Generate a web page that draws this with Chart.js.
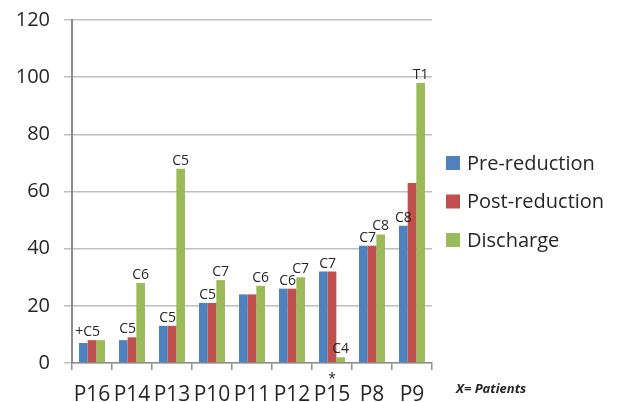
<!DOCTYPE html>
<html>
<head>
<meta charset="utf-8">
<script src="https://cdn.jsdelivr.net/npm/chart.js@4/dist/chart.umd.min.js"></script>
<style>
  html, body { margin: 0; padding: 0; background: #ffffff; }
  #wrap { width: 617px; height: 402px; }
</style>
</head>
<body>
<div id="wrap"><canvas id="c" width="617" height="402"></canvas></div>
<script>
// Patients along the x axis
const patients = ['P16', 'P14', 'P13', 'P10', 'P11', 'P12', 'P15', 'P8', 'P9'];

// Series values
const preReduction  = [7, 8, 13, 21, 24, 26, 32, 41, 48];
const postReduction = [8, 9, 13, 21, 24, 26, 32, 41, 63];
const discharge     = [8, 28, 68, 29, 27, 30, 2, 45, 98];

// Level annotations written above the bars
const preNotes       = ['', '', '', '', '', '', '', '', 'C8'];
const postNotes      = ['+C5', 'C5', 'C5', 'C5', '', 'C6', 'C7', 'C7', ''];
const dischargeNotes = ['', 'C6', 'C5', 'C7', 'C6', 'C7', 'C4', 'C8', 'T1'];

// Marks placed under the category labels
const patientMarks = ['', '', '', '', '', '', '*', '', ''];

// Value axis ticks
const yTicks = [0, 20, 40, 60, 80, 100, 120];

const seriesNames  = ['Pre-reduction', 'Post-reduction', 'Discharge'];
const seriesColors = ['#4F81BD', '#C0504D', '#9BBB59'];
const FONT = '"Open Sans", "Liberation Sans", sans-serif';

const notesPlugin = {
  id: 'notes',
  afterDatasetsDraw(chart) {
    const ctx = chart.ctx;
    const sets = [
      { notes: preNotes, nudge: 0 },
      { notes: postNotes, nudge: -0.5 },
      { notes: dischargeNotes, nudge: 0 }
    ];
    ctx.save();
    ctx.fillStyle = '#262626';
    ctx.font = '14px ' + FONT;
    ctx.textAlign = 'center';
    ctx.textBaseline = 'bottom';
    sets.forEach((s, di) => {
      const meta = chart.getDatasetMeta(di);
      meta.data.forEach((bar, i) => {
        const t = s.notes[i];
        if (!t) return;
        ctx.fillText(t, bar.x + s.nudge * bar.width, bar.y - 1);
      });
    });
    // marks under category labels
    const xs = chart.scales.x;
    ctx.textBaseline = 'middle';
    patientMarks.forEach((m, i) => {
      if (!m) return;
      ctx.fillText(m, xs.getPixelForValue(i), chart.chartArea.bottom + 16);
    });
    ctx.restore();
  }
};

const legendPlugin = {
  id: 'sideLegend',
  afterDraw(chart) {
    const ctx = chart.ctx;
    ctx.save();
    ctx.font = '20px ' + FONT;
    ctx.textBaseline = 'middle';
    ctx.textAlign = 'left';
    chart.data.datasets.forEach((ds, i) => {
      const cy = 163 + i * 38.5;
      ctx.fillStyle = ds.backgroundColor;
      ctx.fillRect(446, cy - 7, 14, 14);
      ctx.fillStyle = '#262626';
      ctx.fillText(ds.label, 467, cy + 1);
    });
    ctx.font = 'italic bold 13px ' + FONT;
    ctx.fillText('X= Patients', 456, 389);
    ctx.restore();
  }
};

new Chart(document.getElementById('c'), {
  type: 'bar',
  data: {
    labels: patients,
    datasets: [
      { label: seriesNames[0], data: preReduction,  backgroundColor: seriesColors[0] },
      { label: seriesNames[1], data: postReduction, backgroundColor: seriesColors[1] },
      { label: seriesNames[2], data: discharge,     backgroundColor: seriesColors[2] }
    ]
  },
  options: {
    responsive: false,
    animation: false,
    layout: { padding: { top: 20, right: 185, left: 0, bottom: 0 } },
    datasets: { bar: { categoryPercentage: 0.65, barPercentage: 1.0, borderWidth: 0 } },
    plugins: { legend: { display: false }, tooltip: { enabled: false } },
    scales: {
      x: {
        afterFit(s) { s.height = 39; s.paddingLeft = 0; s.paddingRight = 0; },
        grid: { display: true, drawOnChartArea: false, drawTicks: true, tickLength: 7, color: '#8C8C8C', lineWidth: 1.5, offset: true },
        border: { display: true, color: '#8C8C8C', width: 1.5 },
        ticks: { color: '#262626', font: { family: FONT, size: 21 }, padding: 12.5, maxRotation: 0, autoSkip: false }
      },
      y: {
        min: 0, max: 120,
        afterFit(s) { s.width = 72; s.paddingTop = 0; s.paddingBottom = 0; },
        afterBuildTicks(s) { s.ticks = yTicks.map(v => ({ value: v })); },
        grid: { color: '#BFBFBF', lineWidth: 1.5, tickLength: 8, drawTicks: true },
        border: { display: true, color: '#8C8C8C', width: 2 },
        ticks: { color: '#262626', font: { family: FONT, size: 20 }, padding: 14 }
      }
    }
  },
  plugins: [notesPlugin, legendPlugin]
});
</script>
</body>
</html>
